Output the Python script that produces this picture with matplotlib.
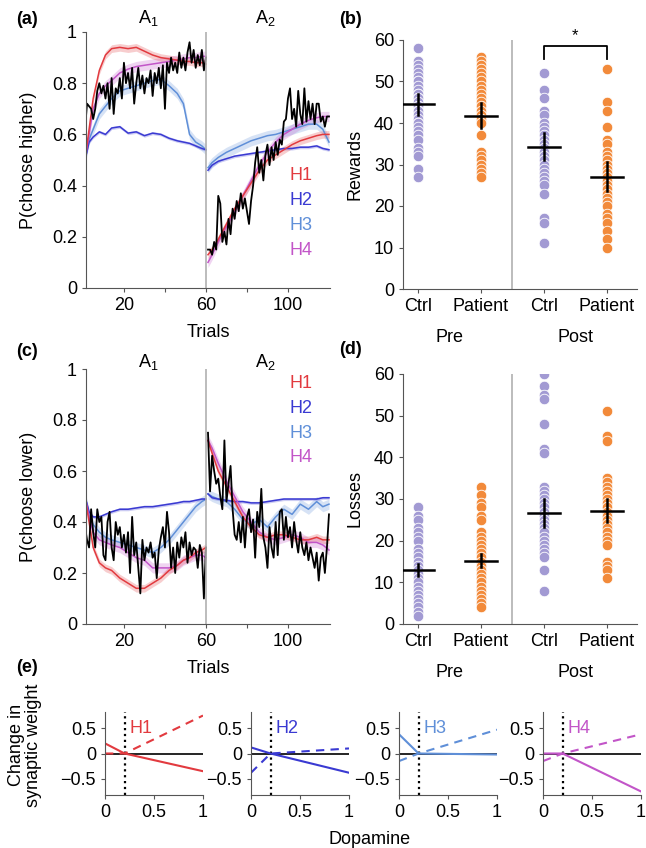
import numpy as np
import matplotlib
matplotlib.use('Agg')
import matplotlib.pyplot as plt
import matplotlib.transforms as mtransforms

# ---------------- data ----------------
models = ['H1', 'H2', 'H3', 'H4']
model_colors = {'H1': '#e23a3f', 'H2': '#3a3ad2', 'H3': '#5f8fd8', 'H4': '#c255c8'}
model_band = {'H1': 0.015, 'H2': 0.006, 'H3': 0.02, 'H4': 0.02}

# sample trials for the model curves (A1 block, A2 block)
t_block1 = [1, 3, 5, 8, 11, 14, 18, 22, 26, 30, 34, 38, 42, 46, 49, 52, 55, 58, 60]
t_block2 = [61, 63, 66, 70, 74, 78, 82, 86, 90, 94, 98, 102, 106, 110, 114, 117, 120]

# (a) P(choose higher)
higher_b1 = {
    'H1': [0.50, 0.62, 0.74, 0.85, 0.91, 0.935, 0.94, 0.935, 0.94, 0.925, 0.91, 0.90, 0.895, 0.89, 0.885, 0.885, 0.88, 0.88, 0.875],
    'H2': [0.50, 0.57, 0.59, 0.61, 0.60, 0.625, 0.63, 0.605, 0.61, 0.595, 0.605, 0.60, 0.585, 0.575, 0.57, 0.565, 0.555, 0.545, 0.54],
    'H3': [0.50, 0.58, 0.62, 0.68, 0.71, 0.74, 0.77, 0.78, 0.79, 0.80, 0.81, 0.815, 0.79, 0.76, 0.72, 0.60, 0.57, 0.555, 0.54],
    'H4': [0.50, 0.60, 0.70, 0.76, 0.79, 0.81, 0.84, 0.855, 0.865, 0.87, 0.875, 0.88, 0.885, 0.89, 0.895, 0.90, 0.90, 0.905, 0.905],
}
higher_b2 = {
    'H1': [0.13, 0.15, 0.19, 0.25, 0.31, 0.36, 0.41, 0.46, 0.50, 0.52, 0.54, 0.56, 0.575, 0.585, 0.595, 0.60, 0.60],
    'H2': [0.46, 0.48, 0.495, 0.505, 0.515, 0.52, 0.525, 0.53, 0.535, 0.54, 0.545, 0.545, 0.55, 0.55, 0.555, 0.545, 0.54],
    'H3': [0.47, 0.49, 0.51, 0.53, 0.545, 0.56, 0.575, 0.585, 0.595, 0.60, 0.61, 0.62, 0.63, 0.64, 0.64, 0.62, 0.57],
    'H4': [0.10, 0.13, 0.18, 0.24, 0.30, 0.36, 0.42, 0.48, 0.53, 0.57, 0.60, 0.62, 0.64, 0.655, 0.665, 0.67, 0.67],
}
higher_data_b1 = [0.62, 0.72, 0.71, 0.70, 0.66, 0.70, 0.77, 0.80, 0.76, 0.79,
                  0.74, 0.80, 0.70, 0.82, 0.68, 0.78, 0.76, 0.82, 0.74, 0.88,
                  0.80, 0.84, 0.78, 0.86, 0.72, 0.80, 0.86, 0.78, 0.83, 0.76,
                  0.82, 0.80, 0.85, 0.75, 0.84, 0.80, 0.86, 0.78, 0.87, 0.70,
                  0.88, 0.84, 0.90, 0.85, 0.88, 0.84, 0.92, 0.86, 0.90, 0.85,
                  0.92, 0.96, 0.88, 0.93, 0.86, 0.91, 0.87, 0.93, 0.85, 0.90]
higher_data_b2 = [0.15, 0.15, 0.13, 0.18, 0.15, 0.36, 0.33, 0.18, 0.22, 0.17,
                  0.27, 0.21, 0.31, 0.27, 0.34, 0.30, 0.37, 0.31, 0.35, 0.30,
                  0.25, 0.34, 0.40, 0.49, 0.55, 0.45, 0.50, 0.42, 0.52, 0.56,
                  0.48, 0.55, 0.50, 0.57, 0.52, 0.58, 0.56, 0.65, 0.66, 0.74,
                  0.78, 0.66, 0.70, 0.63, 0.77, 0.68, 0.64, 0.78, 0.65, 0.73,
                  0.66, 0.72, 0.64, 0.72, 0.72, 0.65, 0.67, 0.63, 0.67, 0.67]

# (c) P(choose lower)
lower_b1 = {
    'H1': [0.50, 0.40, 0.30, 0.24, 0.22, 0.21, 0.18, 0.16, 0.14, 0.14, 0.16, 0.18, 0.21, 0.23, 0.25, 0.26, 0.28, 0.29, 0.30],
    'H2': [0.50, 0.44, 0.42, 0.42, 0.43, 0.44, 0.45, 0.45, 0.455, 0.46, 0.46, 0.465, 0.47, 0.475, 0.48, 0.48, 0.485, 0.49, 0.49],
    'H3': [0.50, 0.43, 0.39, 0.36, 0.34, 0.33, 0.32, 0.31, 0.30, 0.29, 0.28, 0.30, 0.33, 0.37, 0.40, 0.43, 0.46, 0.48, 0.49],
    'H4': [0.50, 0.42, 0.36, 0.33, 0.32, 0.31, 0.30, 0.28, 0.26, 0.25, 0.22, 0.22, 0.22, 0.23, 0.25, 0.26, 0.27, 0.27, 0.26],
}
lower_b2 = {
    'H1': [0.72, 0.67, 0.60, 0.54, 0.48, 0.42, 0.38, 0.35, 0.34, 0.35, 0.35, 0.34, 0.33, 0.33, 0.34, 0.33, 0.33],
    'H2': [0.51, 0.495, 0.49, 0.485, 0.48, 0.48, 0.475, 0.475, 0.48, 0.485, 0.49, 0.49, 0.49, 0.49, 0.49, 0.495, 0.495],
    'H3': [0.51, 0.50, 0.49, 0.48, 0.45, 0.41, 0.39, 0.41, 0.38, 0.42, 0.45, 0.43, 0.47, 0.45, 0.48, 0.46, 0.47],
    'H4': [0.72, 0.69, 0.63, 0.56, 0.50, 0.44, 0.40, 0.36, 0.34, 0.33, 0.34, 0.35, 0.34, 0.32, 0.32, 0.31, 0.29],
}
lower_data_b1 = [0.38, 0.33, 0.30, 0.45, 0.36, 0.30, 0.45, 0.40, 0.42, 0.27,
                 0.25, 0.40, 0.44, 0.30, 0.25, 0.40, 0.35, 0.38, 0.30, 0.35,
                 0.28, 0.36, 0.20, 0.42, 0.27, 0.32, 0.22, 0.12, 0.33, 0.25,
                 0.30, 0.28, 0.32, 0.26, 0.28, 0.18, 0.29, 0.34, 0.38, 0.30,
                 0.44, 0.36, 0.22, 0.30, 0.20, 0.32, 0.26, 0.34, 0.30, 0.36,
                 0.24, 0.32, 0.27, 0.30, 0.29, 0.22, 0.31, 0.28, 0.10, 0.30]
lower_data_b2 = [0.75, 0.52, 0.66, 0.60, 0.55, 0.57, 0.50, 0.45, 0.72, 0.48,
                 0.55, 0.62, 0.45, 0.35, 0.33, 0.40, 0.32, 0.42, 0.30, 0.42,
                 0.45, 0.36, 0.41, 0.26, 0.44, 0.38, 0.53, 0.34, 0.30, 0.22,
                 0.38, 0.30, 0.26, 0.40, 0.27, 0.44, 0.45, 0.33, 0.42, 0.34,
                 0.38, 0.30, 0.40, 0.33, 0.28, 0.36, 0.30, 0.27, 0.32, 0.25,
                 0.30, 0.26, 0.22, 0.28, 0.17, 0.26, 0.28, 0.20, 0.30, 0.43]

# (b) rewards and (d) losses per group
groups = ['Ctrl', 'Patient', 'Ctrl', 'Patient']
phases = ['Pre', 'Post']
rewards = [
    [58, 55, 54, 53, 52, 51, 50, 50, 49, 48, 47, 47, 46, 46, 45, 44, 44, 43, 43, 42, 41, 40, 40, 39, 38, 37, 36, 34, 33, 32, 29, 27],
    [56, 55, 54, 53, 52, 51, 50, 49, 48, 47, 46, 45, 44, 43, 42, 41, 40, 37, 33, 32, 31, 30, 29, 28, 27],
    [52, 48, 46, 43, 42, 40, 39, 38, 37, 36, 35, 34, 33, 32, 31, 30, 29, 28, 27, 26, 25, 23, 17, 16, 11],
    [53, 45, 43, 39, 36, 35, 33, 32, 31, 30, 29, 28, 27, 26, 25, 24, 23, 22, 21, 20, 18, 17, 16, 14, 12, 10],
]
reward_mean = [44.5, 41.8, 34.3, 27.1]
reward_sem = [2.5, 3.0, 3.2, 3.4]
losses = [
    [28, 26, 25, 23, 22, 21, 20, 18, 17, 16, 15, 14, 13, 12, 11, 10, 9, 8, 7, 6, 5, 4, 3, 2],
    [33, 31, 29, 28, 26, 25, 22, 21, 20, 19, 18, 17, 16, 15, 14, 13, 12, 11, 10, 9, 8, 7, 6, 5, 4],
    [60, 57, 55, 54, 48, 42, 41, 33, 32, 31, 30, 29, 28, 27, 26, 25, 24, 23, 22, 21, 20, 19, 18, 17, 16, 13, 8],
    [51, 45, 44, 35, 34, 33, 32, 31, 30, 29, 28, 27, 26, 25, 24, 23, 22, 21, 20, 19, 15, 14, 13, 11],
]
loss_mean = [13.0, 15.2, 26.7, 27.2]
loss_sem = [1.5, 1.5, 3.4, 2.7]

# (e) plasticity rules: change in weight vs dopamine (solid / dashed pathway)
dopamine = [0.0, 0.2, 1.0]
rule_solid = {'H1': [0.2, 0.0, -0.35], 'H2': [0.12, 0.0, -0.38],
              'H3': [0.38, 0.0, -0.02], 'H4': [0.0, 0.0, -0.75]}
rule_dashed = {'H1': [0.0, 0.0, 0.75], 'H2': [-0.38, 0.0, 0.1],
               'H3': [-0.15, 0.0, 0.47], 'H4': [-0.15, 0.0, 0.38]}
dopamine_baseline = 0.2

# ---------------- style ----------------
plt.rcParams['font.family'] = ['Liberation Sans', 'DejaVu Sans']
plt.rcParams['font.size'] = 13
plt.rcParams['mathtext.default'] = 'regular'
plt.rcParams['axes.edgecolor'] = '#555555'
plt.rcParams['xtick.color'] = '#555555'
plt.rcParams['ytick.color'] = '#555555'
plt.rcParams['xtick.labelcolor'] = 'black'
plt.rcParams['ytick.labelcolor'] = 'black'
plt.rcParams['xtick.major.size'] = 3
plt.rcParams['ytick.major.size'] = 3

W, H = 646, 848
fig = plt.figure(figsize=(W / 100, H / 100), dpi=100)


def px_axes(left, top, right, bottom):
    return fig.add_axes([left / W, 1 - bottom / H, (right - left) / W, (bottom - top) / H])


def clean(ax):
    ax.spines['top'].set_visible(False)
    ax.spines['right'].set_visible(False)


def draw_timecourse(ax, curves1, curves2, data1, data2, ylabel, title_y, legend_y):
    clean(ax)
    for name in ['H3', 'H2', 'H4', 'H1']:
        c = model_colors[name]
        for t, y in ((t_block1, curves1[name]), (t_block2, curves2[name])):
            y = np.array(y)
            ax.fill_between(t, y - model_band[name], y + model_band[name],
                            color=c, alpha=0.25, lw=0)
            ax.plot(t, y, color=c, lw=1.1)
    ax.plot(np.arange(1, 61), data1, color='black', lw=1.3)
    ax.plot(np.arange(61, 121), data2, color='black', lw=1.3)
    ax.axvline(60, color='#b0b0b0', lw=1.2)
    ax.set_xlim(1.5, 120.5)
    ax.set_ylim(0, 1)
    ax.set_xticks([20, 40, 60, 80, 100])
    ax.set_xticklabels(['20', '', '60', '', '100'])
    ax.set_yticks([0, 0.2, 0.4, 0.6, 0.8, 1])
    ax.set_yticklabels(['0', '0.2', '0.4', '0.6', '0.8', '1'])
    ax.set_xlabel('Trials', labelpad=7)
    ax.set_ylabel(ylabel)
    ax.yaxis.set_label_coords(-0.2, 0.5)
    trans = mtransforms.blended_transform_factory(ax.transData, ax.transAxes)
    ax.text(32, title_y, r'A$_1$', transform=trans, ha='center', va='center')
    ax.text(89, title_y, r'A$_2$', transform=trans, ha='center', va='center')
    for i, name in enumerate(models):
        ax.text(112, legend_y - 0.098 * i, name, color=model_colors[name],
                ha='right', va='center')


def draw_groups(ax, values, means, sems, ylabel):
    clean(ax)
    pos = [1, 2, 3, 4]
    dot_colors = ['#a29ad3', '#f28a3a', '#a29ad3', '#f28a3a']
    for p, vals, col in zip(pos, values, dot_colors):
        ax.scatter([p] * len(vals), vals, s=58, color=col, edgecolor='white',
                   linewidth=0.6, zorder=2)
    for p, m, e in zip(pos, means, sems):
        ax.plot([p - 0.25, p + 0.25], [m, m], color='black', lw=1.8, zorder=3)
        ax.plot([p, p], [m - e, m + e], color='black', lw=1.8, zorder=3)
    ax.axvline(2.5, color='#b0b0b0', lw=1.2)
    ax.set_xlim(0.76, 4.48)
    ax.set_ylim(0, 60)
    ax.set_yticks([0, 10, 20, 30, 40, 50, 60])
    ax.set_xticks(pos)
    ax.set_xticklabels(groups)
    ax.set_ylabel(ylabel)
    ax.yaxis.set_label_coords(-0.17, 0.5)
    trans = mtransforms.blended_transform_factory(ax.transData, ax.transAxes)
    ax.text(1.5, -0.193, phases[0], transform=trans, ha='center', va='center')
    ax.text(3.5, -0.193, phases[1], transform=trans, ha='center', va='center')


# (a)
ax_a = px_axes(86, 32, 330, 288)
draw_timecourse(ax_a, higher_b1, higher_b2, higher_data_b1, higher_data_b2,
                'P(choose higher)', 1.055, 0.44)

# (b)
ax_b = px_axes(403, 40, 637, 289)
draw_groups(ax_b, rewards, reward_mean, reward_sem, 'Rewards')
ax_b.plot([3, 3, 4, 4], [55.5, 58.5, 58.5, 55.5], color='black', lw=1.3, clip_on=False)
ax_b.text(3.5, 59.2, '*', ha='center', va='bottom', fontsize=12)

# (c)
ax_c = px_axes(86, 369, 330, 624)
draw_timecourse(ax_c, lower_b1, lower_b2, lower_data_b1, lower_data_b2,
                'P(choose lower)', 1.027, 0.945)

# (d)
ax_d = px_axes(403, 374, 637, 624)
draw_groups(ax_d, losses, loss_mean, loss_sem, 'Losses')

# (e)
e_lefts = [105, 251, 399, 543]
for left, name in zip(e_lefts, models):
    ax = px_axes(left, 712, left + 98, 795)
    clean(ax)
    c = model_colors[name]
    ax.axhline(0, color='black', lw=1.2)
    ax.axvline(dopamine_baseline, color='black', lw=1.6, ls=':')
    ax.plot(dopamine, rule_solid[name], color=c, lw=1.5)
    ax.plot(dopamine, rule_dashed[name], color=c, lw=1.5, ls=(0, (4, 3)))
    ax.set_xlim(0, 1)
    ax.set_ylim(-0.82, 0.82)
    ax.set_xticks([0, 0.5, 1])
    ax.set_xticklabels(['0', '0.5', '1'])
    ax.set_yticks([-0.5, 0, 0.5])
    ax.set_yticklabels(['\u22120.5', '0', '0.5'])
    ax.text(0.25, 0.5, name, color=c, ha='left', va='center')

fig.text(25 / W, 1 - 745 / H, 'Change in\nsynaptic weight', rotation=90,
         ha='center', va='center', multialignment='center', linespacing=1.0)
fig.text(370 / W, 1 - 839 / H, 'Dopamine', ha='center', va='center')

for lab, x, y in [('(a)', 27, 19), ('(b)', 350, 19), ('(c)', 27, 352),
                  ('(d)', 350, 349), ('(e)', 27, 668)]:
    fig.text(x / W, 1 - y / H, lab, ha='center', va='center', fontweight='bold')

fig.savefig('out.png', dpi=100)
